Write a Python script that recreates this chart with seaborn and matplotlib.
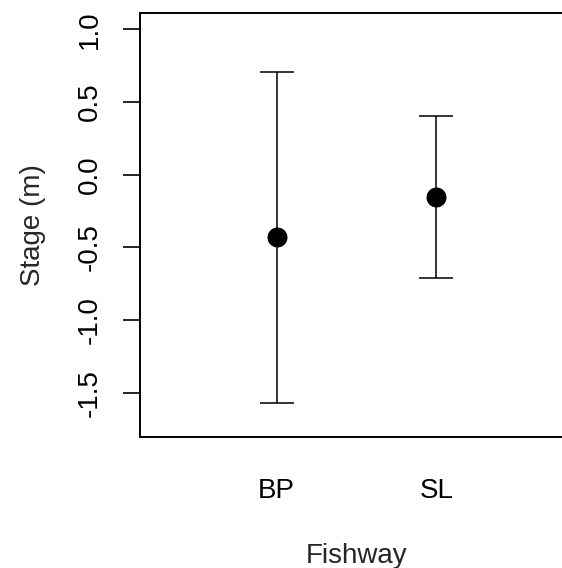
import matplotlib
matplotlib.use("Agg")
import matplotlib.pyplot as plt
import seaborn as sns
import pandas as pd

fishway = ["BP", "SL"]
stage_mean = [-0.427, -0.152]
stage_lower = [-1.569, -0.713]
stage_upper = [0.708, 0.404]
y_ticks = [-1.5, -1.0, -0.5, 0.0, 0.5, 1.0]
y_tick_labels = ["-1.5", "-1.0", "-0.5", "0.0", "0.5", "1.0"]

sns.set_style("ticks")
plt.rcParams['font.family'] = ['Liberation Sans', 'DejaVu Sans']

df = pd.DataFrame({"Fishway": fishway, "Stage": stage_mean,
                   "lo": stage_lower, "hi": stage_upper})

fig = plt.figure(figsize=(5.62, 5.68), dpi=100)
ax = fig.add_axes([140/562, 1 - 437.3/568, 433/562, 424/568])

sns.scatterplot(data=df, x="Fishway", y="Stage", ax=ax, s=207,
                color="black", edgecolor="black", linewidth=0, zorder=3)
xpos = list(range(len(fishway)))
ax.errorbar(xpos, df["Stage"],
            yerr=[df["Stage"] - df["lo"], df["hi"] - df["Stage"]],
            fmt="none", ecolor="black", elinewidth=1.1, capsize=11.9,
            capthick=1.1, zorder=2)

ax.set_xlim(-0.854, 1.854)
ax.set_ylim(-1.807, 1.110)
ax.set_xticks(xpos)
ax.set_xticklabels(fishway)
ax.set_yticks(y_ticks)
ax.set_yticklabels(y_tick_labels)

ax.tick_params(axis='x', length=0, pad=29, labelsize=20, colors='black')
ax.tick_params(axis='y', length=12, width=1.2, pad=15, labelsize=20,
               colors='black')
for lab in ax.get_yticklabels():
    lab.set_rotation(90)
    lab.set_verticalalignment('center')
    lab.set_horizontalalignment('right')
for s in ax.spines.values():
    s.set_linewidth(1.4)
    s.set_color("black")

ax.set_xlabel("Fishway", fontsize=20)
ax.set_ylabel("Stage (m)", fontsize=20)
ax.xaxis.set_label_coords(0.5, -0.25)
ax.yaxis.set_label_coords(-0.218, 0.5)

fig.savefig("out.png", dpi=100)
